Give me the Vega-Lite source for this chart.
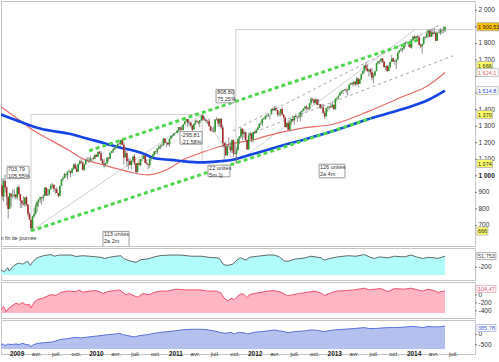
{
"$schema":"https://vega.github.io/schema/vega-lite/v6.json",
"padding":0,
"background":"white",
"spacing":2,
"bounds":"flush",
"config":{"view":{"stroke":"#c4c4c4","strokeWidth":1},"font":"Liberation Sans","text":{"font":"Liberation Sans"}},
"datasets":{
"px":[
{"d":"2008-10-24","o":942,"h":985,"l":852,"c":877},{"d":"2008-10-31","o":874,"h":984,"l":845,"c":968},{"d":"2008-11-07","o":968,"h":1007,"l":899,"c":930},{"d":"2008-11-14","o":930,"h":936,"l":818,"c":873},{"d":"2008-11-21","o":872,"h":878,"l":741,"c":800},{"d":"2008-11-28","o":801,"h":896,"l":800,"c":896},{"d":"2008-12-05","o":889,"h":896,"l":815,"c":876},{"d":"2008-12-12","o":876,"h":919,"l":866,"c":879},{"d":"2008-12-19","o":879,"h":918,"l":862,"c":887},{"d":"2008-12-26","o":887,"h":887,"l":857,"c":872},
{"d":"2009-01-02","o":870,"h":934,"l":857,"c":931},{"d":"2009-01-09","o":931,"h":943,"l":888,"c":890},{"d":"2009-01-16","o":890,"h":890,"l":804,"c":850},{"d":"2009-01-23","o":850,"h":851,"l":805,"c":832},{"d":"2009-01-30","o":832,"h":877,"l":821,"c":826},{"d":"2009-02-06","o":826,"h":870,"l":812,"c":869},{"d":"2009-02-13","o":869,"h":876,"l":818,"c":827},{"d":"2009-02-20","o":827,"h":827,"l":754,"c":770},{"d":"2009-02-27","o":770,"h":780,"l":734,"c":735},{"d":"2009-03-06","o":735,"h":735,"l":667,"c":683},
{"d":"2009-03-13","o":683,"h":758,"l":672,"c":756},{"d":"2009-03-20","o":756,"h":804,"l":745,"c":769},{"d":"2009-03-27","o":769,"h":833,"l":765,"c":816},{"d":"2009-04-03","o":816,"h":845,"l":780,"c":843},{"d":"2009-04-09","o":843,"h":857,"l":814,"c":857},{"d":"2009-04-17","o":857,"h":875,"l":836,"c":870},{"d":"2009-04-24","o":870,"h":871,"l":826,"c":866},{"d":"2009-05-01","o":866,"h":889,"l":847,"c":877},{"d":"2009-05-08","o":877,"h":930,"l":876,"c":929},{"d":"2009-05-15","o":929,"h":930,"l":878,"c":882},
{"d":"2009-05-22","o":882,"h":924,"l":879,"c":887},{"d":"2009-05-29","o":887,"h":920,"l":882,"c":919},{"d":"2009-06-05","o":919,"h":951,"l":916,"c":940},{"d":"2009-06-12","o":940,"h":956,"l":925,"c":946},{"d":"2009-06-19","o":946,"h":946,"l":903,"c":921},{"d":"2009-06-26","o":921,"h":925,"l":888,"c":918},{"d":"2009-07-02","o":918,"h":931,"l":896,"c":896},{"d":"2009-07-10","o":896,"h":898,"l":869,"c":880},{"d":"2009-07-17","o":880,"h":942,"l":875,"c":940},{"d":"2009-07-24","o":940,"h":979,"l":940,"c":979},
{"d":"2009-07-31","o":979,"h":996,"l":966,"c":987},{"d":"2009-08-07","o":987,"h":1018,"l":985,"c":1010},{"d":"2009-08-14","o":1010,"h":1013,"l":990,"c":1005},{"d":"2009-08-21","o":1005,"h":1027,"l":978,"c":1026},{"d":"2009-08-28","o":1026,"h":1039,"l":1022,"c":1029},{"d":"2009-09-04","o":1029,"h":1031,"l":992,"c":1016},{"d":"2009-09-11","o":1016,"h":1048,"l":1016,"c":1042},{"d":"2009-09-18","o":1042,"h":1074,"l":1036,"c":1068},{"d":"2009-09-25","o":1068,"h":1080,"l":1041,"c":1044},{"d":"2009-10-02","o":1044,"h":1063,"l":1020,"c":1025},
{"d":"2009-10-09","o":1025,"h":1073,"l":1025,"c":1071},{"d":"2009-10-16","o":1071,"h":1096,"l":1068,"c":1087},{"d":"2009-10-23","o":1087,"h":1101,"l":1073,"c":1080},{"d":"2009-10-30","o":1080,"h":1086,"l":1033,"c":1036},{"d":"2009-11-06","o":1036,"h":1071,"l":1029,"c":1069},{"d":"2009-11-13","o":1069,"h":1105,"l":1069,"c":1093},{"d":"2009-11-20","o":1093,"h":1113,"l":1086,"c":1091},{"d":"2009-11-27","o":1091,"h":1112,"l":1077,"c":1091},{"d":"2009-12-04","o":1091,"h":1119,"l":1091,"c":1106},{"d":"2009-12-11","o":1106,"h":1107,"l":1085,"c":1106},
{"d":"2009-12-18","o":1106,"h":1118,"l":1093,"c":1102},{"d":"2009-12-24","o":1102,"h":1127,"l":1102,"c":1127},{"d":"2009-12-31","o":1127,"h":1130,"l":1115,"c":1115},{"d":"2010-01-08","o":1115,"h":1145,"l":1115,"c":1145},{"d":"2010-01-15","o":1145,"h":1150,"l":1131,"c":1136},{"d":"2010-01-22","o":1136,"h":1150,"l":1090,"c":1092},{"d":"2010-01-29","o":1092,"h":1103,"l":1071,"c":1074},{"d":"2010-02-05","o":1074,"h":1104,"l":1045,"c":1066},{"d":"2010-02-12","o":1066,"h":1080,"l":1056,"c":1075},{"d":"2010-02-19","o":1075,"h":1112,"l":1075,"c":1109},
{"d":"2010-02-26","o":1109,"h":1112,"l":1086,"c":1104},{"d":"2010-03-05","o":1104,"h":1139,"l":1104,"c":1139},{"d":"2010-03-12","o":1139,"h":1151,"l":1135,"c":1150},{"d":"2010-03-19","o":1150,"h":1170,"l":1138,"c":1160},{"d":"2010-03-26","o":1160,"h":1181,"l":1156,"c":1167},{"d":"2010-04-02","o":1167,"h":1181,"l":1165,"c":1179},{"d":"2010-04-09","o":1179,"h":1195,"l":1174,"c":1194},{"d":"2010-04-16","o":1194,"h":1214,"l":1186,"c":1192},{"d":"2010-04-23","o":1192,"h":1218,"l":1181,"c":1217},{"d":"2010-04-30","o":1217,"h":1220,"l":1186,"c":1187},
{"d":"2010-05-07","o":1187,"h":1203,"l":1066,"c":1111},{"d":"2010-05-14","o":1111,"h":1174,"l":1110,"c":1136},{"d":"2010-05-21","o":1136,"h":1150,"l":1056,"c":1088},{"d":"2010-05-28","o":1088,"h":1104,"l":1040,"c":1089},{"d":"2010-06-04","o":1089,"h":1105,"l":1064,"c":1065},{"d":"2010-06-11","o":1065,"h":1092,"l":1042,"c":1092},{"d":"2010-06-18","o":1092,"h":1120,"l":1085,"c":1117},{"d":"2010-06-25","o":1117,"h":1131,"l":1065,"c":1076},{"d":"2010-07-02","o":1076,"h":1076,"l":1011,"c":1023},{"d":"2010-07-09","o":1023,"h":1078,"l":1018,"c":1078},
{"d":"2010-07-16","o":1078,"h":1100,"l":1062,"c":1065},{"d":"2010-07-23","o":1065,"h":1103,"l":1056,"c":1102},{"d":"2010-07-30","o":1102,"h":1120,"l":1089,"c":1101},{"d":"2010-08-06","o":1101,"h":1130,"l":1101,"c":1122},{"d":"2010-08-13","o":1122,"h":1129,"l":1076,"c":1079},{"d":"2010-08-20","o":1079,"h":1100,"l":1070,"c":1071},{"d":"2010-08-27","o":1071,"h":1072,"l":1040,"c":1065},{"d":"2010-09-03","o":1065,"h":1105,"l":1050,"c":1104},{"d":"2010-09-10","o":1104,"h":1110,"l":1091,"c":1110},{"d":"2010-09-17","o":1110,"h":1131,"l":1110,"c":1125},
{"d":"2010-09-24","o":1125,"h":1148,"l":1122,"c":1148},{"d":"2010-10-01","o":1148,"h":1150,"l":1131,"c":1146},{"d":"2010-10-08","o":1146,"h":1167,"l":1131,"c":1165},{"d":"2010-10-15","o":1165,"h":1184,"l":1159,"c":1176},{"d":"2010-10-22","o":1176,"h":1190,"l":1160,"c":1183},{"d":"2010-10-29","o":1183,"h":1196,"l":1171,"c":1183},{"d":"2010-11-05","o":1183,"h":1227,"l":1181,"c":1225},{"d":"2010-11-12","o":1225,"h":1226,"l":1194,"c":1199},{"d":"2010-11-19","o":1199,"h":1207,"l":1173,"c":1199},{"d":"2010-11-26","o":1199,"h":1205,"l":1185,"c":1189},
{"d":"2010-12-03","o":1189,"h":1225,"l":1174,"c":1224},{"d":"2010-12-10","o":1224,"h":1241,"l":1220,"c":1240},{"d":"2010-12-17","o":1240,"h":1247,"l":1233,"c":1244},{"d":"2010-12-23","o":1244,"h":1259,"l":1240,"c":1257},{"d":"2010-12-31","o":1257,"h":1262,"l":1254,"c":1258},{"d":"2011-01-07","o":1258,"h":1278,"l":1257,"c":1272},{"d":"2011-01-14","o":1272,"h":1294,"l":1262,"c":1293},{"d":"2011-01-21","o":1293,"h":1296,"l":1271,"c":1283},{"d":"2011-01-28","o":1283,"h":1302,"l":1276,"c":1276},{"d":"2011-02-04","o":1276,"h":1311,"l":1276,"c":1311},
{"d":"2011-02-11","o":1311,"h":1330,"l":1311,"c":1329},{"d":"2011-02-18","o":1329,"h":1344,"l":1324,"c":1343},{"d":"2011-02-25","o":1343,"h":1344,"l":1294,"c":1320},{"d":"2011-03-04","o":1320,"h":1332,"l":1303,"c":1321},{"d":"2011-03-11","o":1321,"h":1327,"l":1291,"c":1304},{"d":"2011-03-18","o":1304,"h":1305,"l":1249,"c":1279},{"d":"2011-03-25","o":1279,"h":1314,"l":1279,"c":1314},{"d":"2011-04-01","o":1314,"h":1338,"l":1307,"c":1332},{"d":"2011-04-08","o":1332,"h":1339,"l":1322,"c":1328},{"d":"2011-04-15","o":1328,"h":1328,"l":1309,"c":1320},
{"d":"2011-04-21","o":1320,"h":1337,"l":1295,"c":1337},{"d":"2011-04-29","o":1337,"h":1364,"l":1332,"c":1364},{"d":"2011-05-06","o":1364,"h":1371,"l":1330,"c":1340},{"d":"2011-05-13","o":1340,"h":1359,"l":1333,"c":1338},{"d":"2011-05-20","o":1338,"h":1346,"l":1318,"c":1333},{"d":"2011-05-27","o":1333,"h":1334,"l":1312,"c":1331},{"d":"2011-06-03","o":1331,"h":1346,"l":1297,"c":1300},{"d":"2011-06-10","o":1300,"h":1301,"l":1268,"c":1271},{"d":"2011-06-17","o":1271,"h":1292,"l":1262,"c":1271},{"d":"2011-06-24","o":1271,"h":1298,"l":1262,"c":1268},
{"d":"2011-07-01","o":1268,"h":1341,"l":1263,"c":1340},{"d":"2011-07-08","o":1340,"h":1356,"l":1333,"c":1344},{"d":"2011-07-15","o":1344,"h":1344,"l":1295,"c":1316},{"d":"2011-07-22","o":1316,"h":1347,"l":1296,"c":1345},{"d":"2011-07-29","o":1345,"h":1345,"l":1282,"c":1292},{"d":"2011-08-05","o":1292,"h":1308,"l":1169,"c":1199},{"d":"2011-08-12","o":1199,"h":1199,"l":1102,"c":1179},{"d":"2011-08-19","o":1179,"h":1208,"l":1121,"c":1124},{"d":"2011-08-26","o":1124,"h":1190,"l":1121,"c":1177},{"d":"2011-09-02","o":1177,"h":1230,"l":1172,"c":1174},
{"d":"2011-09-09","o":1174,"h":1204,"l":1140,"c":1154},{"d":"2011-09-16","o":1154,"h":1220,"l":1137,"c":1216},{"d":"2011-09-23","o":1216,"h":1220,"l":1114,"c":1136},{"d":"2011-09-30","o":1136,"h":1195,"l":1131,"c":1131},{"d":"2011-10-07","o":1131,"h":1172,"l":1075,"c":1155},{"d":"2011-10-14","o":1155,"h":1224,"l":1155,"c":1224},{"d":"2011-10-21","o":1224,"h":1239,"l":1191,"c":1238},{"d":"2011-10-28","o":1238,"h":1293,"l":1229,"c":1285},{"d":"2011-11-04","o":1285,"h":1285,"l":1215,"c":1253},{"d":"2011-11-11","o":1253,"h":1277,"l":1226,"c":1263},
{"d":"2011-11-18","o":1263,"h":1267,"l":1209,"c":1216},{"d":"2011-11-25","o":1216,"h":1216,"l":1158,"c":1159},{"d":"2011-12-02","o":1159,"h":1260,"l":1159,"c":1244},{"d":"2011-12-09","o":1244,"h":1267,"l":1220,"c":1255},{"d":"2011-12-16","o":1255,"h":1256,"l":1202,"c":1219},{"d":"2011-12-23","o":1219,"h":1266,"l":1202,"c":1265},{"d":"2011-12-30","o":1265,"h":1269,"l":1251,"c":1258},{"d":"2012-01-06","o":1258,"h":1285,"l":1258,"c":1278},{"d":"2012-01-13","o":1278,"h":1297,"l":1275,"c":1289},{"d":"2012-01-20","o":1289,"h":1316,"l":1289,"c":1315},
{"d":"2012-01-27","o":1315,"h":1333,"l":1306,"c":1316},{"d":"2012-02-03","o":1316,"h":1345,"l":1300,"c":1345},{"d":"2012-02-10","o":1345,"h":1354,"l":1337,"c":1343},{"d":"2012-02-17","o":1343,"h":1363,"l":1340,"c":1361},{"d":"2012-02-24","o":1361,"h":1368,"l":1352,"c":1366},{"d":"2012-03-02","o":1366,"h":1378,"l":1354,"c":1370},{"d":"2012-03-09","o":1370,"h":1372,"l":1340,"c":1371},{"d":"2012-03-16","o":1371,"h":1405,"l":1371,"c":1404},{"d":"2012-03-23","o":1404,"h":1414,"l":1391,"c":1397},{"d":"2012-03-30","o":1397,"h":1420,"l":1392,"c":1408},
{"d":"2012-04-05","o":1408,"h":1422,"l":1391,"c":1398},{"d":"2012-04-13","o":1398,"h":1398,"l":1357,"c":1370},{"d":"2012-04-20","o":1370,"h":1392,"l":1358,"c":1378},{"d":"2012-04-27","o":1378,"h":1406,"l":1358,"c":1403},{"d":"2012-05-04","o":1403,"h":1415,"l":1367,"c":1369},{"d":"2012-05-11","o":1369,"h":1373,"l":1343,"c":1353},{"d":"2012-05-18","o":1353,"h":1356,"l":1292,"c":1295},{"d":"2012-05-25","o":1295,"h":1324,"l":1291,"c":1318},{"d":"2012-06-01","o":1318,"h":1335,"l":1278,"c":1278},{"d":"2012-06-08","o":1278,"h":1335,"l":1267,"c":1325},
{"d":"2012-06-15","o":1325,"h":1343,"l":1306,"c":1343},{"d":"2012-06-22","o":1343,"h":1364,"l":1324,"c":1335},{"d":"2012-06-29","o":1335,"h":1362,"l":1309,"c":1362},{"d":"2012-07-06","o":1362,"h":1375,"l":1354,"c":1355},{"d":"2012-07-13","o":1355,"h":1357,"l":1325,"c":1356},{"d":"2012-07-20","o":1356,"h":1381,"l":1346,"c":1362},{"d":"2012-07-27","o":1362,"h":1390,"l":1329,"c":1386},{"d":"2012-08-03","o":1386,"h":1394,"l":1354,"c":1391},{"d":"2012-08-10","o":1391,"h":1407,"l":1391,"c":1406},{"d":"2012-08-17","o":1406,"h":1419,"l":1397,"c":1418},
{"d":"2012-08-24","o":1418,"h":1426,"l":1398,"c":1411},{"d":"2012-08-31","o":1411,"h":1413,"l":1397,"c":1407},{"d":"2012-09-07","o":1407,"h":1438,"l":1396,"c":1438},{"d":"2012-09-14","o":1438,"h":1475,"l":1427,"c":1466},{"d":"2012-09-21","o":1466,"h":1467,"l":1449,"c":1460},{"d":"2012-09-28","o":1460,"h":1463,"l":1429,"c":1441},{"d":"2012-10-05","o":1441,"h":1470,"l":1438,"c":1461},{"d":"2012-10-12","o":1461,"h":1464,"l":1425,"c":1429},{"d":"2012-10-19","o":1429,"h":1464,"l":1429,"c":1433},{"d":"2012-10-26","o":1433,"h":1434,"l":1403,"c":1411},
{"d":"2012-11-02","o":1411,"h":1434,"l":1408,"c":1414},{"d":"2012-11-09","o":1414,"h":1434,"l":1373,"c":1380},{"d":"2012-11-16","o":1380,"h":1389,"l":1343,"c":1359},{"d":"2012-11-23","o":1359,"h":1409,"l":1359,"c":1409},{"d":"2012-11-30","o":1409,"h":1420,"l":1385,"c":1416},{"d":"2012-12-07","o":1416,"h":1423,"l":1398,"c":1418},{"d":"2012-12-14","o":1418,"h":1439,"l":1411,"c":1413},{"d":"2012-12-21","o":1413,"h":1448,"l":1413,"c":1430},{"d":"2012-12-28","o":1430,"h":1430,"l":1398,"c":1402},{"d":"2013-01-04","o":1402,"h":1467,"l":1402,"c":1466},
{"d":"2013-01-11","o":1466,"h":1472,"l":1451,"c":1472},{"d":"2013-01-18","o":1472,"h":1485,"l":1464,"c":1485},{"d":"2013-01-25","o":1485,"h":1503,"l":1485,"c":1503},{"d":"2013-02-01","o":1503,"h":1514,"l":1495,"c":1513},{"d":"2013-02-08","o":1513,"h":1518,"l":1495,"c":1518},{"d":"2013-02-15","o":1518,"h":1524,"l":1513,"c":1520},{"d":"2013-02-22","o":1520,"h":1530,"l":1497,"c":1516},{"d":"2013-03-01","o":1516,"h":1525,"l":1485,"c":1518},{"d":"2013-03-08","o":1518,"h":1552,"l":1518,"c":1551},{"d":"2013-03-15","o":1551,"h":1563,"l":1550,"c":1560},
{"d":"2013-03-22","o":1560,"h":1564,"l":1539,"c":1556},{"d":"2013-03-28","o":1556,"h":1570,"l":1546,"c":1569},{"d":"2013-04-05","o":1569,"h":1573,"l":1539,"c":1553},{"d":"2013-04-12","o":1553,"h":1597,"l":1548,"c":1588},{"d":"2013-04-19","o":1588,"h":1588,"l":1536,"c":1555},{"d":"2013-04-26","o":1555,"h":1586,"l":1555,"c":1582},{"d":"2013-05-03","o":1582,"h":1618,"l":1578,"c":1614},{"d":"2013-05-10","o":1614,"h":1635,"l":1614,"c":1634},{"d":"2013-05-17","o":1634,"h":1667,"l":1622,"c":1667},{"d":"2013-05-24","o":1667,"h":1687,"l":1636,"c":1650},
{"d":"2013-05-31","o":1650,"h":1674,"l":1631,"c":1631},{"d":"2013-06-07","o":1631,"h":1644,"l":1598,"c":1643},{"d":"2013-06-14","o":1643,"h":1648,"l":1608,"c":1627},{"d":"2013-06-21","o":1627,"h":1654,"l":1577,"c":1593},{"d":"2013-06-28","o":1593,"h":1620,"l":1560,"c":1606},{"d":"2013-07-05","o":1606,"h":1632,"l":1604,"c":1632},{"d":"2013-07-12","o":1632,"h":1680,"l":1632,"c":1680},{"d":"2013-07-19","o":1680,"h":1693,"l":1674,"c":1692},{"d":"2013-07-26","o":1692,"h":1698,"l":1676,"c":1691},{"d":"2013-08-02","o":1691,"h":1709,"l":1681,"c":1709},
{"d":"2013-08-09","o":1709,"h":1709,"l":1684,"c":1691},{"d":"2013-08-16","o":1691,"h":1693,"l":1655,"c":1656},{"d":"2013-08-23","o":1656,"h":1664,"l":1639,"c":1664},{"d":"2013-08-30","o":1664,"h":1669,"l":1628,"c":1633},{"d":"2013-09-06","o":1633,"h":1670,"l":1633,"c":1655},{"d":"2013-09-13","o":1655,"h":1689,"l":1655,"c":1688},{"d":"2013-09-20","o":1688,"h":1730,"l":1688,"c":1710},{"d":"2013-09-27","o":1710,"h":1711,"l":1687,"c":1692},{"d":"2013-10-04","o":1692,"h":1700,"l":1670,"c":1690},{"d":"2013-10-11","o":1690,"h":1704,"l":1646,"c":1703},
{"d":"2013-10-18","o":1703,"h":1745,"l":1700,"c":1745},{"d":"2013-10-25","o":1745,"h":1760,"l":1740,"c":1759},{"d":"2013-11-01","o":1759,"h":1775,"l":1752,"c":1761},{"d":"2013-11-08","o":1761,"h":1771,"l":1746,"c":1771},{"d":"2013-11-15","o":1771,"h":1798,"l":1761,"c":1798},{"d":"2013-11-22","o":1798,"h":1805,"l":1780,"c":1805},{"d":"2013-11-29","o":1805,"h":1813,"l":1800,"c":1806},{"d":"2013-12-06","o":1806,"h":1810,"l":1779,"c":1805},{"d":"2013-12-13","o":1805,"h":1811,"l":1775,"c":1775},{"d":"2013-12-20","o":1775,"h":1823,"l":1768,"c":1818},
{"d":"2013-12-27","o":1818,"h":1844,"l":1818,"c":1841},{"d":"2014-01-03","o":1841,"h":1849,"l":1827,"c":1831},{"d":"2014-01-10","o":1831,"h":1843,"l":1823,"c":1842},{"d":"2014-01-17","o":1842,"h":1851,"l":1815,"c":1839},{"d":"2014-01-24","o":1839,"h":1850,"l":1790,"c":1790},{"d":"2014-01-31","o":1790,"h":1798,"l":1771,"c":1783},{"d":"2014-02-07","o":1783,"h":1798,"l":1738,"c":1797},{"d":"2014-02-14","o":1797,"h":1841,"l":1791,"c":1838},{"d":"2014-02-21","o":1838,"h":1847,"l":1824,"c":1836},{"d":"2014-02-28","o":1836,"h":1867,"l":1836,"c":1859},
{"d":"2014-03-07","o":1859,"h":1884,"l":1834,"c":1878},{"d":"2014-03-14","o":1878,"h":1883,"l":1839,"c":1841},{"d":"2014-03-21","o":1841,"h":1884,"l":1839,"c":1866},{"d":"2014-03-28","o":1866,"h":1883,"l":1842,"c":1857},{"d":"2014-04-04","o":1857,"h":1897,"l":1857,"c":1865},{"d":"2014-04-11","o":1865,"h":1874,"l":1814,"c":1816},{"d":"2014-04-17","o":1816,"h":1865,"l":1816,"c":1864},{"d":"2014-04-25","o":1864,"h":1884,"l":1859,"c":1863},{"d":"2014-05-02","o":1863,"h":1891,"l":1851,"c":1881},{"d":"2014-05-09","o":1881,"h":1889,"l":1859,"c":1878},
{"d":"2014-05-16","o":1878,"h":1903,"l":1862,"c":1878},{"d":"2014-05-23","o":1878,"h":1901,"l":1868,"c":1900.53}
],
"ma":[
{"d":"2008-10-19","v":1417,"s":"red"},{"d":"2009-01-19","v":1330,"s":"red"},{"d":"2009-03-20","v":1272,"s":"red"},{"d":"2009-06-06","v":1214,"s":"red"},{"d":"2009-08-23","v":1157,"s":"red"},{"d":"2009-11-05","v":1099,"s":"red"},{"d":"2010-01-22","v":1070,"s":"red"},{"d":"2010-04-10","v":1041,"s":"red"},{"d":"2010-06-23","v":1017,"s":"red"},{"d":"2010-08-26","v":1006,"s":"red"},{"d":"2010-10-11","v":1017,"s":"red"},{"d":"2010-11-26","v":1041,"s":"red"},{"d":"2011-02-08","v":1099,"s":"red"},{"d":"2011-04-27","v":1139,"s":"red"},{"d":"2011-07-14","v":1174,"s":"red"},{"d":"2011-09-26","v":1197,"s":"red"},{"d":"2011-12-13","v":1214,"s":"red"},{"d":"2012-02-29","v":1243,"s":"red"},{"d":"2012-05-13","v":1267,"s":"red"},{"d":"2012-07-30","v":1287,"s":"red"},{"d":"2012-12-29","v":1313,"s":"red"},{"d":"2013-06-03","v":1388,"s":"red"},{"d":"2013-11-02","v":1475,"s":"red"},{"d":"2014-03-06","v":1545,"s":"red"},{"d":"2014-05-23","v":1624.1,"s":"red"},
{"d":"2008-10-19","v":1370,"s":"blue"},{"d":"2009-01-19","v":1325,"s":"blue"},{"d":"2009-04-21","v":1284,"s":"blue"},{"d":"2009-08-23","v":1255,"s":"blue"},{"d":"2009-12-21","v":1214,"s":"blue"},{"d":"2010-04-10","v":1174,"s":"blue"},{"d":"2010-07-25","v":1139,"s":"blue"},{"d":"2010-10-02","v":1104,"s":"blue"},{"d":"2010-12-10","v":1096,"s":"blue"},{"d":"2011-02-08","v":1087,"s":"blue"},{"d":"2011-04-27","v":1081,"s":"blue"},{"d":"2011-07-14","v":1087,"s":"blue"},{"d":"2011-09-26","v":1099,"s":"blue"},{"d":"2011-12-13","v":1128,"s":"blue"},{"d":"2012-02-29","v":1157,"s":"blue"},{"d":"2012-05-13","v":1186,"s":"blue"},{"d":"2012-07-30","v":1214,"s":"blue"},{"d":"2012-09-14","v":1232,"s":"blue"},{"d":"2012-12-29","v":1272,"s":"blue"},{"d":"2013-06-03","v":1342,"s":"blue"},{"d":"2013-11-02","v":1400,"s":"blue"},{"d":"2014-03-06","v":1458,"s":"blue"},{"d":"2014-05-23","v":1514.8,"s":"blue"}
],
"thin":[
{"d":"2009-03-06","v":666.79,"d2":"2009-03-06","v2":1370.58},
{"d":"2009-03-06","v":1370.58,"d2":"2011-05-02","v2":1370.58},
{"d":"2009-03-06","v":666.79,"d2":"2011-05-02","v2":1370.58},
{"d":"2011-05-02","v":1370.58,"d2":"2011-05-02","v2":1074.77},
{"d":"2011-05-02","v":1370.58,"d2":"2011-10-04","v2":1074.77},
{"d":"2011-10-04","v":1074.77,"d2":"2011-10-04","v2":1883.57},
{"d":"2011-10-04","v":1883.57,"d2":"2014-10-01","v2":1883.57},
{"d":"2011-10-04","v":1074.77,"d2":"2014-01-05","v2":1883.57}
],
"gdash":[
{"d":"2011-09-21","v":1272,"d2":"2014-05-05","v2":1916},
{"d":"2011-10-14","v":1226,"d2":"2014-06-29","v2":1725}
],
"green":[
{"d":"2009-11-28","v":1151,"d2":"2014-01-24","v2":1823},
{"d":"2009-03-06","v":666.79,"d2":"2013-06-17","v2":1348}
],
"boxes":[
{"d":"2008-11-16","v":1058,"d2":"2009-02-25","v2":983},
{"d":"2011-01-20","v":1267,"d2":"2011-05-02","v2":1191},
{"d":"2011-07-05","v":1522,"d2":"2011-09-26","v2":1441},
{"d":"2011-05-29","v":1064,"d2":"2011-09-07","v2":994},
{"d":"2012-10-21","v":1070,"d2":"2013-02-17","v2":988},
{"d":"2010-01-31","v":664,"d2":"2010-05-31","v2":560}
],
"notes":[
{"d":"2008-11-20","v":1052,"t":"703,79\n105,55%"},
{"d":"2011-01-25","v":1261,"t":"-295,81\n-21,58%"},
{"d":"2011-07-10","v":1516,"t":"808,80\n75,25%"},
{"d":"2011-06-03","v":1058,"t":"22 unités\n5m 1j"},
{"d":"2012-10-25","v":1064,"t":"126 unités\n2a 4m"},
{"d":"2010-02-05","v":658,"t":"113 unités\n2a 2m"}
],
"ymain":[
{"v":700,"t":"700"},{"v":800,"t":"800"},{"v":900,"t":"900"},{"v":1000,"t":"1 000"},{"v":1100,"t":"1 100"},{"v":1200,"t":"1 200"},{"v":1300,"t":"1 300"},{"v":1400,"t":"1 400"},{"v":1500,"t":"1 500"},{"v":1600,"t":"1 600"},{"v":1700,"t":"1 700"},{"v":1800,"t":"1 800"},{"v":1900,"t":"1 900"},{"v":2000,"t":"2 000"}
],
"lv":[
{"v":1900.53,"t":"1 900,53","k":"last"},
{"v":1666,"t":"1 666","k":"lvl"},
{"v":1624.1,"t":"1 624,1","k":"ma1"},
{"v":1514.8,"t":"1 514,8","k":"ma2"},
{"v":1370,"t":"1 370","k":"lvl"},
{"v":1074,"t":"1 074","k":"lvl"},
{"v":666,"t":"666","k":"low"}
],
"yp":[
{"p":"a","v":-200,"t":"-200"},
{"p":"b","v":0,"t":"0"},{"p":"b","v":-200,"t":"-200"},{"p":"b","v":-400,"t":"-400"},
{"p":"c","v":0,"t":"0"},{"p":"c","v":-500,"t":"-500"}
],
"xt":[
{"d":"2009-01-01","t":"2009","b":1},{"d":"2009-04-01","t":"avr.","b":0},{"d":"2009-07-01","t":"juil.","b":0},{"d":"2009-10-01","t":"oct.","b":0},
{"d":"2010-01-01","t":"2010","b":1},{"d":"2010-04-01","t":"avr.","b":0},{"d":"2010-07-01","t":"juil.","b":0},{"d":"2010-10-01","t":"oct.","b":0},
{"d":"2011-01-01","t":"2011","b":1},{"d":"2011-04-01","t":"avr.","b":0},{"d":"2011-07-01","t":"juil.","b":0},{"d":"2011-10-01","t":"oct.","b":0},
{"d":"2012-01-01","t":"2012","b":1},{"d":"2012-04-01","t":"avr.","b":0},{"d":"2012-07-01","t":"juil.","b":0},{"d":"2012-10-01","t":"oct.","b":0},
{"d":"2013-01-01","t":"2013","b":1},{"d":"2013-04-01","t":"avr.","b":0},{"d":"2013-07-01","t":"juil.","b":0},{"d":"2013-10-01","t":"oct.","b":0},
{"d":"2014-01-01","t":"2014","b":1},{"d":"2014-04-01","t":"avr.","b":0},{"d":"2014-07-01","t":"juil.","b":0}
],
"p1":[
{"d":"2008-10-19","v":-257},{"d":"2008-11-03","v":-298},{"d":"2008-11-19","v":-205},{"d":"2008-11-26","v":-282},{"d":"2008-12-12","v":-180},{"d":"2008-12-27","v":-128},{"d":"2009-01-11","v":-103},{"d":"2009-01-27","v":-128},{"d":"2009-02-11","v":-77},{"d":"2009-02-19","v":-67},{"d":"2009-03-03","v":-154},{"d":"2009-03-14","v":-77},{"d":"2009-03-29","v":0},{"d":"2009-04-13","v":36},{"d":"2009-05-06","v":67},{"d":"2009-06-06","v":87},{"d":"2009-06-21","v":51},{"d":"2009-07-14","v":77},{"d":"2009-08-06","v":77},{"d":"2009-09-06","v":77},{"d":"2009-09-29","v":46},{"d":"2009-10-30","v":62},{"d":"2009-11-29","v":51},{"d":"2009-12-30","v":36},{"d":"2010-01-22","v":26},{"d":"2010-02-06","v":0},{"d":"2010-03-01","v":26},{"d":"2010-04-01","v":51},{"d":"2010-04-24","v":62},{"d":"2010-05-06","v":0},{"d":"2010-06-01","v":-51},{"d":"2010-07-02","v":-87},{"d":"2010-07-25","v":-26},{"d":"2010-08-25","v":-10},{"d":"2010-09-24","v":36},{"d":"2010-10-25","v":67},{"d":"2010-12-10","v":77},{"d":"2011-01-25","v":77},{"d":"2011-03-12","v":51},{"d":"2011-04-27","v":51},{"d":"2011-06-04","v":26},{"d":"2011-07-05","v":15},{"d":"2011-07-20","v":0},{"d":"2011-08-09","v":-139},{"d":"2011-08-28","v":-154},{"d":"2011-09-20","v":-128},{"d":"2011-10-05","v":-51},{"d":"2011-10-25","v":15},{"d":"2011-11-20","v":-36},{"d":"2011-12-05","v":26},{"d":"2012-01-13","v":51},{"d":"2012-02-28","v":77},{"d":"2012-03-29","v":77},{"d":"2012-04-21","v":36},{"d":"2012-05-14","v":-51},{"d":"2012-05-30","v":-67},{"d":"2012-06-29","v":-15},{"d":"2012-08-14","v":10},{"d":"2012-09-14","v":51},{"d":"2012-10-30","v":15},{"d":"2012-11-14","v":-36},{"d":"2012-12-07","v":0},{"d":"2013-01-15","v":36},{"d":"2013-03-02","v":62},{"d":"2013-04-09","v":51},{"d":"2013-05-17","v":87},{"d":"2013-06-09","v":36},{"d":"2013-07-02","v":0},{"d":"2013-07-25","v":36},{"d":"2013-09-02","v":15},{"d":"2013-10-02","v":51},{"d":"2013-11-17","v":36},{"d":"2013-12-18","v":77},{"d":"2014-01-18","v":26},{"d":"2014-02-10","v":0},{"d":"2014-03-05","v":26},{"d":"2014-04-04","v":15},{"d":"2014-04-20","v":0},{"d":"2014-05-23","v":51.753}
],
"p2":[
{"d":"2008-10-19","v":-358},{"d":"2008-10-31","v":-297},{"d":"2008-11-11","v":-419},{"d":"2008-11-19","v":-358},{"d":"2008-12-04","v":-297},{"d":"2008-12-27","v":-206},{"d":"2009-01-11","v":-237},{"d":"2009-01-27","v":-194},{"d":"2009-02-11","v":-255},{"d":"2009-02-26","v":-237},{"d":"2009-03-06","v":-328},{"d":"2009-03-21","v":-176},{"d":"2009-04-06","v":-115},{"d":"2009-04-29","v":-85},{"d":"2009-05-22","v":-24},{"d":"2009-06-06","v":6},{"d":"2009-06-29","v":-12},{"d":"2009-07-22","v":67},{"d":"2009-08-22","v":97},{"d":"2009-09-29","v":85},{"d":"2009-10-14","v":127},{"d":"2009-10-30","v":67},{"d":"2009-11-29","v":97},{"d":"2009-12-30","v":109},{"d":"2010-01-22","v":67},{"d":"2010-01-30","v":36},{"d":"2010-02-22","v":85},{"d":"2010-03-24","v":109},{"d":"2010-04-16","v":127},{"d":"2010-05-02","v":67},{"d":"2010-05-17","v":6},{"d":"2010-06-01","v":36},{"d":"2010-06-24","v":-24},{"d":"2010-07-10","v":-55},{"d":"2010-08-02","v":36},{"d":"2010-09-01","v":6},{"d":"2010-09-24","v":67},{"d":"2010-10-25","v":97},{"d":"2010-11-25","v":97},{"d":"2011-01-02","v":146},{"d":"2011-02-09","v":127},{"d":"2011-03-20","v":127},{"d":"2011-04-27","v":127},{"d":"2011-05-28","v":97},{"d":"2011-07-05","v":97},{"d":"2011-07-28","v":49},{"d":"2011-08-12","v":-85},{"d":"2011-08-28","v":-146},{"d":"2011-09-12","v":-85},{"d":"2011-09-27","v":-115},{"d":"2011-10-13","v":-24},{"d":"2011-10-28","v":30},{"d":"2011-11-12","v":6},{"d":"2011-11-25","v":-73},{"d":"2011-12-05","v":6},{"d":"2011-12-28","v":36},{"d":"2012-01-28","v":67},{"d":"2012-02-28","v":97},{"d":"2012-03-29","v":109},{"d":"2012-04-29","v":67},{"d":"2012-05-14","v":24},{"d":"2012-05-30","v":-24},{"d":"2012-06-22","v":6},{"d":"2012-07-22","v":36},{"d":"2012-08-30","v":67},{"d":"2012-09-29","v":97},{"d":"2012-10-30","v":49},{"d":"2012-11-14","v":-12},{"d":"2012-12-07","v":36},{"d":"2013-01-07","v":97},{"d":"2013-02-14","v":109},{"d":"2013-04-01","v":127},{"d":"2013-05-17","v":170},{"d":"2013-06-09","v":127},{"d":"2013-07-02","v":146},{"d":"2013-08-02","v":158},{"d":"2013-09-02","v":85},{"d":"2013-10-02","v":158},{"d":"2013-11-17","v":146},{"d":"2013-12-18","v":170},{"d":"2014-01-18","v":127},{"d":"2014-02-10","v":97},{"d":"2014-03-05","v":146},{"d":"2014-04-04","v":109},{"d":"2014-04-20","v":67},{"d":"2014-05-23","v":104.47}
],
"p3":[
{"d":"2008-10-19","v":-488},{"d":"2008-10-31","v":-466},{"d":"2008-11-06","v":-544},{"d":"2008-11-19","v":-466},{"d":"2008-12-04","v":-488},{"d":"2008-12-27","v":-466},{"d":"2009-01-11","v":-488},{"d":"2009-01-27","v":-433},{"d":"2009-02-11","v":-488},{"d":"2009-02-26","v":-511},{"d":"2009-03-06","v":-599},{"d":"2009-03-14","v":-511},{"d":"2009-04-06","v":-433},{"d":"2009-05-06","v":-400},{"d":"2009-06-06","v":-377},{"d":"2009-06-29","v":-322},{"d":"2009-07-22","v":-244},{"d":"2009-08-22","v":-211},{"d":"2009-09-21","v":-155},{"d":"2009-10-22","v":-178},{"d":"2009-11-22","v":-133},{"d":"2009-12-22","v":-100},{"d":"2010-01-22","v":-67},{"d":"2010-02-22","v":-22},{"d":"2010-03-24","v":0},{"d":"2010-04-16","v":44},{"d":"2010-05-02","v":-22},{"d":"2010-05-25","v":-67},{"d":"2010-06-24","v":-133},{"d":"2010-07-17","v":-67},{"d":"2010-08-25","v":-22},{"d":"2010-09-24","v":44},{"d":"2010-10-25","v":89},{"d":"2010-11-25","v":122},{"d":"2010-12-25","v":155},{"d":"2011-01-25","v":200},{"d":"2011-02-25","v":222},{"d":"2011-03-27","v":233},{"d":"2011-04-27","v":233},{"d":"2011-05-28","v":200},{"d":"2011-06-27","v":155},{"d":"2011-07-28","v":67},{"d":"2011-08-20","v":44},{"d":"2011-09-12","v":89},{"d":"2011-09-27","v":11},{"d":"2011-10-20","v":89},{"d":"2011-11-20","v":44},{"d":"2011-11-28","v":11},{"d":"2011-12-28","v":89},{"d":"2012-01-28","v":122},{"d":"2012-02-28","v":155},{"d":"2012-03-29","v":200},{"d":"2012-04-21","v":155},{"d":"2012-05-14","v":122},{"d":"2012-05-30","v":67},{"d":"2012-06-29","v":122},{"d":"2012-08-14","v":155},{"d":"2012-09-14","v":200},{"d":"2012-10-15","v":178},{"d":"2012-11-14","v":122},{"d":"2012-11-30","v":155},{"d":"2012-12-30","v":200},{"d":"2013-02-14","v":233},{"d":"2013-04-01","v":266},{"d":"2013-05-17","v":311},{"d":"2013-06-09","v":266},{"d":"2013-07-02","v":266},{"d":"2013-08-02","v":289},{"d":"2013-09-02","v":311},{"d":"2013-10-02","v":311},{"d":"2013-11-17","v":333},{"d":"2013-12-18","v":366},{"d":"2014-01-18","v":344},{"d":"2014-02-10","v":311},{"d":"2014-03-05","v":366},{"d":"2014-04-04","v":344},{"d":"2014-05-05","v":355},{"d":"2014-05-23","v":385.78}
]
},
"vconcat":[
{
"width":474,"height":245,
"layer":[
{"data":{"name":"thin","format":{"parse":{"d":"date","d2":"date"}}},"mark":{"type":"rule","color":"#cfcfcf","strokeWidth":1,"clip":true},"encoding":{"x":{"field":"d","type":"temporal","scale":{"type":"utc","domain":[{"year":2008,"month":10,"date":19,"utc":true},{"year":2014,"month":10,"date":8,"utc":true}]},"axis":null},"x2":{"field":"d2"},"y":{"field":"v","type":"quantitative","scale":{"domain":[606,2026],"zero":false,"nice":false},"axis":null},"y2":{"field":"v2"}}},
{"data":{"name":"gdash","format":{"parse":{"d":"date","d2":"date"}}},"mark":{"type":"rule","color":"#a6a6a6","strokeWidth":1,"strokeDash":[3,3],"clip":true},"encoding":{"x":{"field":"d","type":"temporal","scale":{"type":"utc","domain":[{"year":2008,"month":10,"date":19,"utc":true},{"year":2014,"month":10,"date":8,"utc":true}]},"axis":null},"x2":{"field":"d2"},"y":{"field":"v","type":"quantitative","scale":{"domain":[606,2026],"zero":false,"nice":false},"axis":null},"y2":{"field":"v2"}}},
{"data":{"name":"ma"},"transform":[{"filter":"datum.s == 'red'"}],"mark":{"type":"line","color":"#e86b6b","strokeWidth":1.2,"interpolate":"monotone","clip":true},"encoding":{"x":{"field":"d","type":"temporal","scale":{"type":"utc","domain":[{"year":2008,"month":10,"date":19,"utc":true},{"year":2014,"month":10,"date":8,"utc":true}]},"axis":null},"y":{"field":"v","type":"quantitative","scale":{"domain":[606,2026],"zero":false,"nice":false},"axis":null}}},
{"data":{"name":"ma"},"transform":[{"filter":"datum.s == 'blue'"}],"mark":{"type":"line","color":"#1443e6","strokeWidth":2.6,"interpolate":"monotone","clip":true},"encoding":{"x":{"field":"d","type":"temporal","scale":{"type":"utc","domain":[{"year":2008,"month":10,"date":19,"utc":true},{"year":2014,"month":10,"date":8,"utc":true}]},"axis":null},"y":{"field":"v","type":"quantitative","scale":{"domain":[606,2026],"zero":false,"nice":false},"axis":null}}},
{"data":{"name":"px"},"mark":{"type":"rule","color":"#777777","strokeWidth":0.8,"clip":true},"encoding":{"x":{"field":"d","type":"temporal","scale":{"type":"utc","domain":[{"year":2008,"month":10,"date":19,"utc":true},{"year":2014,"month":10,"date":8,"utc":true}]},"axis":null},"y":{"field":"l","type":"quantitative","scale":{"domain":[606,2026],"zero":false,"nice":false},"axis":null},"y2":{"field":"h"}}},
{"data":{"name":"px"},"mark":{"type":"rule","strokeWidth":1.6,"strokeCap":"butt","clip":true},"encoding":{"x":{"field":"d","type":"temporal","scale":{"type":"utc","domain":[{"year":2008,"month":10,"date":19,"utc":true},{"year":2014,"month":10,"date":8,"utc":true}]},"axis":null},"y":{"field":"o","type":"quantitative","scale":{"domain":[606,2026],"zero":false,"nice":false},"axis":null},"y2":{"field":"c"},"color":{"condition":{"test":"datum.c >= datum.o","value":"#2b9a2b"},"value":"#a82828"}}},
{"data":{"name":"green","format":{"parse":{"d":"date","d2":"date"}}},"mark":{"type":"rule","color":"#4fd84f","strokeWidth":3,"strokeDash":[4,3],"clip":true},"encoding":{"x":{"field":"d","type":"temporal","scale":{"type":"utc","domain":[{"year":2008,"month":10,"date":19,"utc":true},{"year":2014,"month":10,"date":8,"utc":true}]},"axis":null},"x2":{"field":"d2"},"y":{"field":"v","type":"quantitative","scale":{"domain":[606,2026],"zero":false,"nice":false},"axis":null},"y2":{"field":"v2"}}},
{"data":{"name":"boxes","format":{"parse":{"d":"date","d2":"date"}}},"mark":{"type":"rect","fill":"white","stroke":"#9a9a9a","strokeWidth":1,"clip":true},"encoding":{"x":{"field":"d","type":"temporal","scale":{"type":"utc","domain":[{"year":2008,"month":10,"date":19,"utc":true},{"year":2014,"month":10,"date":8,"utc":true}]},"axis":null},"x2":{"field":"d2"},"y":{"field":"v","type":"quantitative","scale":{"domain":[606,2026],"zero":false,"nice":false},"axis":null},"y2":{"field":"v2"}}},
{"data":{"name":"notes"},"mark":{"type":"text","align":"left","baseline":"top","fontSize":5.5,"lineHeight":7,"lineBreak":"\n","color":"#333","clip":true},"encoding":{"x":{"field":"d","type":"temporal","scale":{"type":"utc","domain":[{"year":2008,"month":10,"date":19,"utc":true},{"year":2014,"month":10,"date":8,"utc":true}]},"axis":null},"y":{"field":"v","type":"quantitative","scale":{"domain":[606,2026],"zero":false,"nice":false},"axis":null},"text":{"field":"t"}}},
{"data":{"values":[{"d":"2009-03-31","v":623,"t":"Cours en fin de journée"}]},"mark":{"type":"text","align":"right","baseline":"middle","fontSize":5.2,"color":"#333","clip":true},"encoding":{"x":{"field":"d","type":"temporal","scale":{"type":"utc","domain":[{"year":2008,"month":10,"date":19,"utc":true},{"year":2014,"month":10,"date":8,"utc":true}]},"axis":null},"y":{"field":"v","type":"quantitative","scale":{"domain":[606,2026],"zero":false,"nice":false},"axis":null},"text":{"field":"t"}}},
{"data":{"name":"ymain"},"mark":{"type":"rule","color":"#777777","strokeWidth":1},"encoding":{"x":{"datum":{"year":2014,"month":10,"date":8,"utc":true},"type":"temporal","scale":{"type":"utc","domain":[{"year":2008,"month":10,"date":19,"utc":true},{"year":2014,"month":10,"date":8,"utc":true}]},"axis":null},"x2":{"datum":{"year":2014,"month":10,"date":17,"utc":true}},"y":{"field":"v","type":"quantitative","scale":{"domain":[606,2026],"zero":false,"nice":false},"axis":null}}},
{"data":{"name":"ymain"},"transform":[{"filter":"datum.v != 1000 && datum.v != 1500 && datum.v != 1600 && datum.v != 1900"}],"mark":{"type":"text","align":"left","baseline":"middle","fontSize":6.5,"color":"#333","dx":3.5},"encoding":{"x":{"datum":{"year":2014,"month":10,"date":8,"utc":true},"type":"temporal","scale":{"type":"utc","domain":[{"year":2008,"month":10,"date":19,"utc":true},{"year":2014,"month":10,"date":8,"utc":true}]},"axis":null},"y":{"field":"v","type":"quantitative","scale":{"domain":[606,2026],"zero":false,"nice":false},"axis":null},"text":{"field":"t"}}},
{"data":{"name":"ymain"},"transform":[{"filter":"datum.v == 1000"}],"mark":{"type":"text","align":"left","baseline":"middle","fontSize":6.5,"fontWeight":"bold","color":"#222","dx":3.5},"encoding":{"x":{"datum":{"year":2014,"month":10,"date":8,"utc":true},"type":"temporal","scale":{"type":"utc","domain":[{"year":2008,"month":10,"date":19,"utc":true},{"year":2014,"month":10,"date":8,"utc":true}]},"axis":null},"y":{"field":"v","type":"quantitative","scale":{"domain":[606,2026],"zero":false,"nice":false},"axis":null},"text":{"field":"t"}}},
{"data":{"name":"lv"},"transform":[{"filter":"datum.k == 'last'"}],"mark":{"type":"bar","fill":"#ffc400","stroke":"#a0a0a0","strokeWidth":0.8,"size":8},"encoding":{"x":{"datum":{"year":2014,"month":10,"date":17,"utc":true},"type":"temporal","scale":{"type":"utc","domain":[{"year":2008,"month":10,"date":19,"utc":true},{"year":2014,"month":10,"date":8,"utc":true}]},"axis":null},"x2":{"datum":{"year":2015,"month":1,"date":26,"utc":true}},"y":{"field":"v","type":"quantitative","scale":{"domain":[606,2026],"zero":false,"nice":false},"axis":null}}},
{"data":{"name":"lv"},"transform":[{"filter":"datum.k == 'lvl'"}],"mark":{"type":"bar","fill":"#ffff66","stroke":"#b0b0b0","strokeWidth":0.8,"size":8},"encoding":{"x":{"datum":{"year":2014,"month":10,"date":17,"utc":true},"type":"temporal","scale":{"type":"utc","domain":[{"year":2008,"month":10,"date":19,"utc":true},{"year":2014,"month":10,"date":8,"utc":true}]},"axis":null},"x2":{"datum":{"year":2014,"month":12,"date":28,"utc":true}},"y":{"field":"v","type":"quantitative","scale":{"domain":[606,2026],"zero":false,"nice":false},"axis":null}}},
{"data":{"name":"lv"},"transform":[{"filter":"datum.k == 'ma1' || datum.k == 'ma2'"}],"mark":{"type":"bar","fill":"white","stroke":"#b8b8b8","strokeWidth":0.8,"size":8},"encoding":{"x":{"datum":{"year":2014,"month":10,"date":17,"utc":true},"type":"temporal","scale":{"type":"utc","domain":[{"year":2008,"month":10,"date":19,"utc":true},{"year":2014,"month":10,"date":8,"utc":true}]},"axis":null},"x2":{"datum":{"year":2015,"month":1,"date":22,"utc":true}},"y":{"field":"v","type":"quantitative","scale":{"domain":[606,2026],"zero":false,"nice":false},"axis":null}}},
{"data":{"name":"lv"},"transform":[{"filter":"datum.k == 'low'"}],"mark":{"type":"bar","fill":"#ffff66","stroke":"#b0b0b0","strokeWidth":0.8,"size":8},"encoding":{"x":{"datum":{"year":2014,"month":10,"date":17,"utc":true},"type":"temporal","scale":{"type":"utc","domain":[{"year":2008,"month":10,"date":19,"utc":true},{"year":2014,"month":10,"date":8,"utc":true}]},"axis":null},"x2":{"datum":{"year":2014,"month":12,"date":6,"utc":true}},"y":{"field":"v","type":"quantitative","scale":{"domain":[606,2026],"zero":false,"nice":false},"axis":null}}},
{"data":{"name":"lv"},"mark":{"type":"text","align":"left","baseline":"middle","fontSize":5.5,"dx":3},"encoding":{"x":{"datum":{"year":2014,"month":10,"date":8,"utc":true},"type":"temporal","scale":{"type":"utc","domain":[{"year":2008,"month":10,"date":19,"utc":true},{"year":2014,"month":10,"date":8,"utc":true}]},"axis":null},"y":{"field":"v","type":"quantitative","scale":{"domain":[606,2026],"zero":false,"nice":false},"axis":null},"text":{"field":"t"},"color":{"field":"k","type":"nominal","scale":{"domain":["last","lvl","ma1","ma2","low"],"range":["#222222","#222222","#e05a5a","#2a48e0","#222222"]},"legend":null}}}
]
},
{
"width":474,"height":32,
"layer":[
{"data":{"name":"p1"},"mark":{"type":"area","color":"#b2fbfb","clip":true},"encoding":{"x":{"field":"d","type":"temporal","scale":{"type":"utc","domain":[{"year":2008,"month":10,"date":19,"utc":true},{"year":2014,"month":10,"date":8,"utc":true}]},"axis":null},"y":{"field":"v","type":"quantitative","scale":{"domain":[-370,123],"zero":false,"nice":false},"axis":null},"y2":{"datum":-370}}},
{"data":{"name":"p1"},"mark":{"type":"line","color":"#5e6b6b","strokeWidth":1,"clip":true},"encoding":{"x":{"field":"d","type":"temporal","scale":{"type":"utc","domain":[{"year":2008,"month":10,"date":19,"utc":true},{"year":2014,"month":10,"date":8,"utc":true}]},"axis":null},"y":{"field":"v","type":"quantitative","scale":{"domain":[-370,123],"zero":false,"nice":false},"axis":null}}},
{"data":{"name":"yp"},"transform":[{"filter":"datum.p == 'a'"}],"mark":{"type":"rule","color":"#777777","strokeWidth":1},"encoding":{"x":{"datum":{"year":2014,"month":10,"date":8,"utc":true},"type":"temporal","scale":{"type":"utc","domain":[{"year":2008,"month":10,"date":19,"utc":true},{"year":2014,"month":10,"date":8,"utc":true}]},"axis":null},"x2":{"datum":{"year":2014,"month":10,"date":17,"utc":true}},"y":{"field":"v","type":"quantitative","scale":{"domain":[-370,123],"zero":false,"nice":false},"axis":null}}},
{"data":{"name":"yp"},"transform":[{"filter":"datum.p == 'a'"}],"mark":{"type":"text","align":"left","baseline":"middle","fontSize":6.5,"color":"#333","dx":3.5},"encoding":{"x":{"datum":{"year":2014,"month":10,"date":8,"utc":true},"type":"temporal","scale":{"type":"utc","domain":[{"year":2008,"month":10,"date":19,"utc":true},{"year":2014,"month":10,"date":8,"utc":true}]},"axis":null},"y":{"field":"v","type":"quantitative","scale":{"domain":[-370,123],"zero":false,"nice":false},"axis":null},"text":{"field":"t"}}},
{"data":{"values":[{"v":51.753,"t":"51,753"}]},"mark":{"type":"bar","fill":"white","stroke":"#999","strokeWidth":0.8,"size":7},"encoding":{"x":{"datum":{"year":2014,"month":10,"date":17,"utc":true},"type":"temporal","scale":{"type":"utc","domain":[{"year":2008,"month":10,"date":19,"utc":true},{"year":2014,"month":10,"date":8,"utc":true}]},"axis":null},"x2":{"datum":{"year":2015,"month":1,"date":12,"utc":true}},"y":{"field":"v","type":"quantitative","scale":{"domain":[-370,123],"zero":false,"nice":false},"axis":null}}},
{"data":{"values":[{"v":51.753,"t":"51,753"}]},"mark":{"type":"text","align":"left","baseline":"middle","fontSize":5.5,"color":"#444","dx":3},"encoding":{"x":{"datum":{"year":2014,"month":10,"date":8,"utc":true},"type":"temporal","scale":{"type":"utc","domain":[{"year":2008,"month":10,"date":19,"utc":true},{"year":2014,"month":10,"date":8,"utc":true}]},"axis":null},"y":{"field":"v","type":"quantitative","scale":{"domain":[-370,123],"zero":false,"nice":false},"axis":null},"text":{"field":"t"}}}
]
},
{
"width":474,"height":36,
"layer":[
{"data":{"name":"p2"},"mark":{"type":"area","color":"#ffb5c3","clip":true},"encoding":{"x":{"field":"d","type":"temporal","scale":{"type":"utc","domain":[{"year":2008,"month":10,"date":19,"utc":true},{"year":2014,"month":10,"date":8,"utc":true}]},"axis":null},"y":{"field":"v","type":"quantitative","scale":{"domain":[-455,200],"zero":false,"nice":false},"axis":null},"y2":{"datum":-455}}},
{"data":{"name":"p2"},"mark":{"type":"line","color":"#f0506e","strokeWidth":1,"clip":true},"encoding":{"x":{"field":"d","type":"temporal","scale":{"type":"utc","domain":[{"year":2008,"month":10,"date":19,"utc":true},{"year":2014,"month":10,"date":8,"utc":true}]},"axis":null},"y":{"field":"v","type":"quantitative","scale":{"domain":[-455,200],"zero":false,"nice":false},"axis":null}}},
{"data":{"name":"yp"},"transform":[{"filter":"datum.p == 'b'"}],"mark":{"type":"rule","color":"#777777","strokeWidth":1},"encoding":{"x":{"datum":{"year":2014,"month":10,"date":8,"utc":true},"type":"temporal","scale":{"type":"utc","domain":[{"year":2008,"month":10,"date":19,"utc":true},{"year":2014,"month":10,"date":8,"utc":true}]},"axis":null},"x2":{"datum":{"year":2014,"month":10,"date":17,"utc":true}},"y":{"field":"v","type":"quantitative","scale":{"domain":[-455,200],"zero":false,"nice":false},"axis":null}}},
{"data":{"name":"yp"},"transform":[{"filter":"datum.p == 'b'"}],"mark":{"type":"text","align":"left","baseline":"middle","fontSize":6.5,"color":"#333","dx":3.5},"encoding":{"x":{"datum":{"year":2014,"month":10,"date":8,"utc":true},"type":"temporal","scale":{"type":"utc","domain":[{"year":2008,"month":10,"date":19,"utc":true},{"year":2014,"month":10,"date":8,"utc":true}]},"axis":null},"y":{"field":"v","type":"quantitative","scale":{"domain":[-455,200],"zero":false,"nice":false},"axis":null},"text":{"field":"t"}}},
{"data":{"values":[{"v":104.47,"t":"104,47"}]},"mark":{"type":"bar","fill":"white","stroke":"#e8a0ae","strokeWidth":0.8,"size":7,"yOffset":-2},"encoding":{"x":{"datum":{"year":2014,"month":10,"date":17,"utc":true},"type":"temporal","scale":{"type":"utc","domain":[{"year":2008,"month":10,"date":19,"utc":true},{"year":2014,"month":10,"date":8,"utc":true}]},"axis":null},"x2":{"datum":{"year":2015,"month":1,"date":12,"utc":true}},"y":{"field":"v","type":"quantitative","scale":{"domain":[-455,200],"zero":false,"nice":false},"axis":null}}},
{"data":{"values":[{"v":104.47,"t":"104,47"}]},"mark":{"type":"text","align":"left","baseline":"middle","fontSize":5.5,"color":"#e0506e","yOffset":-2,"dx":3},"encoding":{"x":{"datum":{"year":2014,"month":10,"date":8,"utc":true},"type":"temporal","scale":{"type":"utc","domain":[{"year":2008,"month":10,"date":19,"utc":true},{"year":2014,"month":10,"date":8,"utc":true}]},"axis":null},"y":{"field":"v","type":"quantitative","scale":{"domain":[-455,200],"zero":false,"nice":false},"axis":null},"text":{"field":"t"}}}
]
},
{
"width":474,"height":34,
"layer":[
{"data":{"name":"p3"},"mark":{"type":"area","color":"#b4c1ee","clip":true},"encoding":{"x":{"field":"d","type":"temporal","scale":{"type":"utc","domain":[{"year":2008,"month":10,"date":19,"utc":true},{"year":2014,"month":10,"date":8,"utc":true}]},"axis":null},"y":{"field":"v","type":"quantitative","scale":{"domain":[-700,433],"zero":false,"nice":false},"axis":null},"y2":{"datum":-700}}},
{"data":{"name":"p3"},"mark":{"type":"line","color":"#5a72da","strokeWidth":1,"clip":true},"encoding":{"x":{"field":"d","type":"temporal","scale":{"type":"utc","domain":[{"year":2008,"month":10,"date":19,"utc":true},{"year":2014,"month":10,"date":8,"utc":true}]},"axis":null},"y":{"field":"v","type":"quantitative","scale":{"domain":[-700,433],"zero":false,"nice":false},"axis":null}}},
{"data":{"name":"yp"},"transform":[{"filter":"datum.p == 'c'"}],"mark":{"type":"rule","color":"#777777","strokeWidth":1},"encoding":{"x":{"datum":{"year":2014,"month":10,"date":8,"utc":true},"type":"temporal","scale":{"type":"utc","domain":[{"year":2008,"month":10,"date":19,"utc":true},{"year":2014,"month":10,"date":8,"utc":true}]},"axis":null},"x2":{"datum":{"year":2014,"month":10,"date":17,"utc":true}},"y":{"field":"v","type":"quantitative","scale":{"domain":[-700,433],"zero":false,"nice":false},"axis":null}}},
{"data":{"name":"yp"},"transform":[{"filter":"datum.p == 'c'"}],"mark":{"type":"text","align":"left","baseline":"middle","fontSize":6.5,"color":"#333","dx":3.5},"encoding":{"x":{"datum":{"year":2014,"month":10,"date":8,"utc":true},"type":"temporal","scale":{"type":"utc","domain":[{"year":2008,"month":10,"date":19,"utc":true},{"year":2014,"month":10,"date":8,"utc":true}]},"axis":null},"y":{"field":"v","type":"quantitative","scale":{"domain":[-700,433],"zero":false,"nice":false},"axis":null},"text":{"field":"t"}}},
{"data":{"name":"xt"},"transform":[{"filter":"datum.b == 1"}],"mark":{"type":"text","align":"center","baseline":"top","fontSize":6.5,"fontWeight":"bold","color":"#222","dy":2},"encoding":{"x":{"field":"d","type":"temporal","scale":{"type":"utc","domain":[{"year":2008,"month":10,"date":19,"utc":true},{"year":2014,"month":10,"date":8,"utc":true}]},"axis":null},"y":{"datum":-700,"type":"quantitative","scale":{"domain":[-700,433],"zero":false,"nice":false},"axis":null},"text":{"field":"t"}}},
{"data":{"name":"xt"},"transform":[{"filter":"datum.b == 0"}],"mark":{"type":"text","align":"center","baseline":"top","fontSize":6,"color":"#333","dy":2},"encoding":{"x":{"field":"d","type":"temporal","scale":{"type":"utc","domain":[{"year":2008,"month":10,"date":19,"utc":true},{"year":2014,"month":10,"date":8,"utc":true}]},"axis":null},"y":{"datum":-700,"type":"quantitative","scale":{"domain":[-700,433],"zero":false,"nice":false},"axis":null},"text":{"field":"t"}}},
{"data":{"values":[{"v":385.78,"t":"385,78"}]},"mark":{"type":"bar","fill":"white","stroke":"#a8b4e8","strokeWidth":0.8,"size":7,"yOffset":2},"encoding":{"x":{"datum":{"year":2014,"month":10,"date":17,"utc":true},"type":"temporal","scale":{"type":"utc","domain":[{"year":2008,"month":10,"date":19,"utc":true},{"year":2014,"month":10,"date":8,"utc":true}]},"axis":null},"x2":{"datum":{"year":2015,"month":1,"date":12,"utc":true}},"y":{"field":"v","type":"quantitative","scale":{"domain":[-700,433],"zero":false,"nice":false},"axis":null}}},
{"data":{"values":[{"v":385.78,"t":"385,78"}]},"mark":{"type":"text","align":"left","baseline":"middle","fontSize":5.5,"color":"#4a62d0","yOffset":2,"dx":3},"encoding":{"x":{"datum":{"year":2014,"month":10,"date":8,"utc":true},"type":"temporal","scale":{"type":"utc","domain":[{"year":2008,"month":10,"date":19,"utc":true},{"year":2014,"month":10,"date":8,"utc":true}]},"axis":null},"y":{"field":"v","type":"quantitative","scale":{"domain":[-700,433],"zero":false,"nice":false},"axis":null},"text":{"field":"t"}}}
]
}
]
}
